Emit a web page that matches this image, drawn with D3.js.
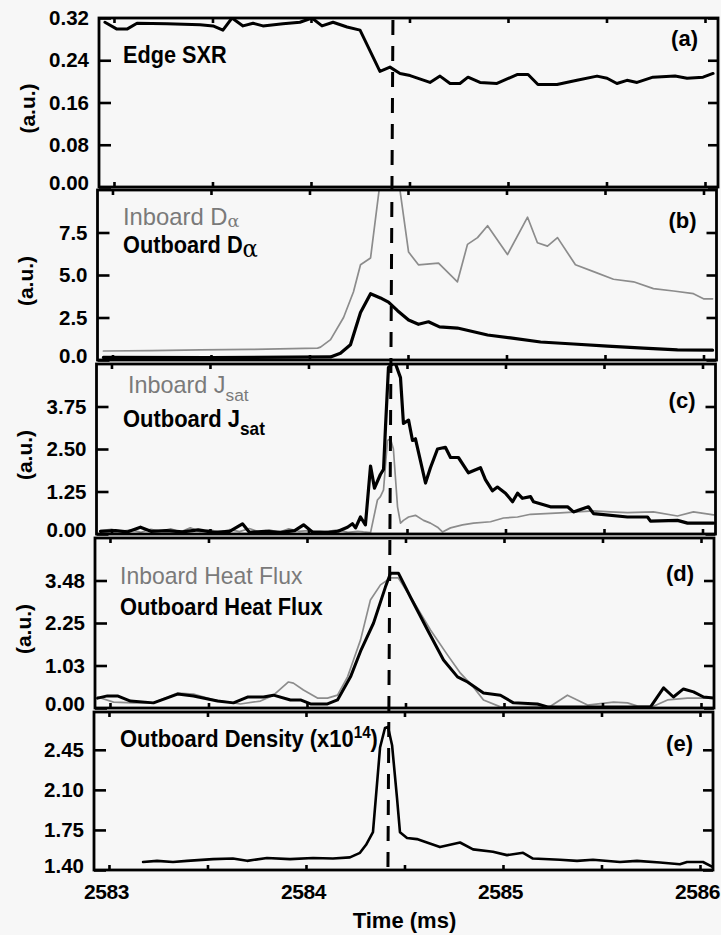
<!DOCTYPE html>
<html>
<head>
<meta charset="utf-8">
<script src="https://cdn.jsdelivr.net/npm/d3@7"></script>
<style>
html,body{margin:0;padding:0;background:#f7f7f7;}
svg{display:block;}
text{font-family:"Liberation Sans",Arial,Helvetica,sans-serif;}
</style>
</head>
<body>
<svg id="chart" width="721" height="935"></svg>
<script>
// ---- time axis ----
const timeTicks = [2583, 2583.5, 2584, 2584.5, 2585, 2585.5, 2586];
const timeTickLabels = ["2583", "", "2584", "", "2585", "", "2586"];
const elmTime = 2584.416;   // dashed marker

// ---- (a) Edge SXR ----
const sxrTicks = [0, 0.08, 0.16, 0.24, 0.32];
const sxrTickLabels = ["0.00", "0.08", "0.16", "0.24", "0.32"];
const sxrTime = [2582.954,2583.015,2583.066,2583.117,2583.269,2583.437,2583.503,2583.553,2583.599,2583.655,2583.706,2583.756,2583.858,2583.944,2584.005,2584.056,2584.112,2584.183,2584.249,2584.350,2584.401,2584.452,2584.503,2584.604,2584.655,2584.706,2584.756,2584.797,2584.858,2584.944,2585.046,2585.102,2585.152,2585.249,2585.350,2585.452,2585.503,2585.553,2585.604,2585.655,2585.736,2585.848,2585.909,2585.990,2586.041];
const sxrValue = [0.312,0.299,0.299,0.310,0.309,0.307,0.305,0.297,0.320,0.305,0.310,0.305,0.309,0.312,0.320,0.305,0.312,0.303,0.297,0.219,0.227,0.215,0.211,0.198,0.210,0.196,0.196,0.208,0.198,0.196,0.213,0.213,0.194,0.194,0.202,0.210,0.206,0.196,0.202,0.198,0.208,0.210,0.206,0.208,0.215];

// ---- (b) D-alpha ----
const daTicks = [0, 2.5, 5.0, 7.5];
const daTickLabels = ["0.0", "2.5", "5.0", "7.5"];
const daInTime = [2582.954,2583.200,2583.447,2583.700,2584.041,2584.056,2584.107,2584.173,2584.223,2584.259,2584.310,2584.360,2584.452,2584.503,2584.553,2584.655,2584.751,2584.802,2584.853,2584.904,2585.005,2585.107,2585.157,2585.208,2585.259,2585.350,2585.442,2585.543,2585.645,2585.746,2585.848,2585.949,2586.000,2586.046];
const daInValue = [0.53,0.55,0.60,0.62,0.70,0.76,1.2,2.5,4.0,5.6,6.0,10.6,10.6,6.35,5.6,5.7,4.6,6.8,7.2,7.9,6.2,8.4,6.9,6.7,7.2,5.6,5.2,4.75,4.6,4.2,4.06,3.9,3.6,3.6];
const daOutTime = [2582.954,2583.500,2584.107,2584.157,2584.208,2584.259,2584.310,2584.360,2584.401,2584.447,2584.503,2584.553,2584.604,2584.660,2584.751,2584.904,2585.020,2585.173,2585.340,2585.513,2585.695,2585.868,2586.046];
const daOutValue = [0.15,0.14,0.18,0.4,0.9,2.8,3.9,3.65,3.4,2.9,2.35,2.1,2.25,1.95,1.88,1.47,1.3,1.06,0.94,0.82,0.70,0.60,0.58];

// ---- (c) J_sat ----
const jsTicks = [0, 1.25, 2.5, 3.75];
const jsTickLabels = ["0.00", "1.25", "2.50", "3.75"];
const jsOutTime = [2582.944,2583.02,2583.08,2583.147,2583.20,2583.28,2583.36,2583.44,2583.52,2583.60,2583.665,2583.70,2583.78,2583.86,2583.93,2583.975,2584.02,2584.10,2584.15,2584.198,2584.223,2584.239,2584.264,2584.289,2584.315,2584.335,2584.365,2584.381,2584.391,2584.406,2584.426,2584.442,2584.467,2584.482,2584.508,2584.528,2584.543,2584.594,2584.619,2584.655,2584.695,2584.721,2584.761,2584.812,2584.873,2584.898,2584.934,2584.959,2585.000,2585.036,2585.061,2585.086,2585.127,2585.142,2585.228,2585.315,2585.345,2585.421,2585.447,2585.619,2585.721,2585.736,2585.873,2585.924,2586.056];
const jsOutValue = [0.08,0.10,0.06,0.20,0.08,0.10,0.06,0.12,0.05,0.08,0.30,0.05,0.08,0.05,0.10,0.27,0.06,0.05,0.08,0.20,0.30,0.18,0.50,0.27,2.0,1.35,1.75,1.9,3.15,4.9,5.0,5.0,4.6,3.25,3.35,2.75,2.8,1.5,1.95,2.5,2.55,2.25,2.25,1.8,1.95,1.6,1.27,1.38,1.2,0.95,1.2,1.05,1.1,0.95,0.8,0.8,0.65,0.8,0.6,0.5,0.5,0.38,0.40,0.32,0.32];
const jsInTime = [2582.944,2583.00,2583.05,2583.10,2583.15,2583.20,2583.25,2583.30,2583.35,2583.40,2583.45,2583.50,2583.55,2583.60,2583.65,2583.70,2583.75,2583.80,2583.85,2583.90,2583.95,2584.00,2584.05,2584.10,2584.15,2584.20,2584.25,2584.279,2584.315,2584.350,2584.365,2584.381,2584.401,2584.416,2584.431,2584.452,2584.467,2584.482,2584.508,2584.543,2584.584,2584.619,2584.655,2584.680,2584.721,2584.782,2584.838,2584.924,2584.990,2585.061,2585.127,2585.279,2585.447,2585.533,2585.619,2585.751,2585.873,2585.954,2586.056];
const jsInValue = [0.10,0.14,0.08,0.12,0.05,0.14,0.08,0.15,0.06,0.18,0.07,0.12,0.05,0.13,0.07,0.16,0.06,0.12,0.05,0.15,0.08,0.10,0.04,0.08,0.12,0.05,0.08,0.06,0.04,1.0,1.1,1.3,2.75,2.8,2.5,0.8,0.32,0.40,0.50,0.55,0.40,0.32,0.20,0.06,0.18,0.27,0.32,0.36,0.47,0.50,0.58,0.62,0.68,0.65,0.63,0.65,0.53,0.65,0.56];

// ---- (d) heat flux ----
const hfTicks = [0, 1.16, 2.32, 3.48];
const hfTickLabels = ["0.00", "1.03", "2.25", "3.48"];
const hfOutTime = [2582.937,2582.987,2583.038,2583.104,2583.221,2583.343,2583.424,2583.546,2583.627,2583.698,2583.779,2583.830,2583.916,2583.967,2584.018,2584.104,2584.155,2584.221,2584.272,2584.338,2584.398,2584.424,2584.464,2584.525,2584.612,2584.693,2584.764,2584.815,2584.896,2584.982,2585.048,2585.170,2585.221,2585.744,2585.810,2585.860,2585.911,2585.962,2586.013,2586.063];
const hfOutValue = [0.27,0.33,0.33,0.19,0.14,0.38,0.33,0.19,0.14,0.30,0.30,0.35,0.22,0.22,0.11,0.11,0.22,0.85,1.55,2.32,3.3,3.68,3.68,3.03,2.13,1.31,0.85,0.71,0.41,0.35,0.14,0.11,0.03,0.03,0.55,0.30,0.52,0.44,0.30,0.27];
const hfInTime = [2582.937,2583.018,2583.119,2583.221,2583.343,2583.424,2583.525,2583.662,2583.764,2583.830,2583.906,2583.931,2583.982,2584.053,2584.104,2584.155,2584.206,2584.236,2584.272,2584.322,2584.373,2584.424,2584.464,2584.541,2584.627,2584.713,2584.779,2584.845,2584.896,2584.982,2585.236,2585.322,2585.424,2585.556,2585.627,2585.678,2585.759,2585.830,2585.931,2586.063];
const hfInValue = [0.30,0.16,0.14,0.14,0.41,0.38,0.22,0.11,0.19,0.35,0.71,0.68,0.49,0.27,0.27,0.35,0.85,1.31,1.86,2.95,3.36,3.55,3.55,2.9,2.13,1.45,0.95,0.57,0.22,0.03,0.05,0.35,0.08,0.16,0.14,0.05,0.05,0.22,0.27,0.27];

// ---- (e) density ----
const neTicks = [1.40, 1.75, 2.10, 2.45];
const neTickLabels = ["1.40", "1.75", "2.10", "2.45"];
const neTime = [2583.173,2583.244,2583.325,2583.396,2583.528,2583.629,2583.701,2583.802,2583.919,2584.036,2584.137,2584.223,2584.274,2584.305,2584.340,2584.376,2584.401,2584.416,2584.437,2584.462,2584.477,2584.513,2584.563,2584.614,2584.680,2584.782,2584.848,2584.949,2585.020,2585.102,2585.152,2585.289,2585.376,2585.457,2585.594,2585.680,2585.797,2585.898,2585.934,2586.015,2586.061];
const neValue = [1.47,1.48,1.47,1.48,1.495,1.50,1.48,1.505,1.495,1.505,1.50,1.51,1.55,1.62,1.73,2.47,2.64,2.65,2.49,2.03,1.73,1.68,1.67,1.64,1.60,1.64,1.58,1.56,1.53,1.55,1.50,1.49,1.48,1.49,1.47,1.48,1.465,1.45,1.47,1.47,1.43];

// ---- styling ----
const BLACK = "#000";
const GREY = "#8c8c8c";
const GREY_TEXT = "#7a7a7a";

const panels = [
  { id: "a", top: 18, bottom: 187, shift: 5, yDomain: [0, 0.32], ticks: sxrTicks, labels: sxrTickLabels,
    tag: "(a)", tagY: 46, unit: true,
    series: [{ t: sxrTime, v: sxrValue, color: BLACK, width: 3 }],
    legend: [{ x: 123, y: 63, w: 104, bold: true, color: BLACK, parts: [{ s: "Edge SXR" }] }] },
  { id: "b", top: 190, bottom: 360, shift: 3.5, yDomain: [0, 10], ticks: daTicks, labels: daTickLabels,
    tag: "(b)", tagY: 228, unit: true,
    series: [{ t: daInTime, v: daInValue, color: GREY, width: 1.7 },
             { t: daOutTime, v: daOutValue, color: BLACK, width: 3.2 }],
    legend: [{ x: 123, y: 225, w: 117, bold: false, color: GREY_TEXT, parts: [{ s: "Inboard D" }, { s: "\u03b1", greek: true, size: 17, dy: 2 }] },
             { x: 123, y: 253, w: 135, bold: true, color: BLACK, parts: [{ s: "Outboard D" }, { s: "\u03b1", greek: true, size: 24, dy: 4 }] }] },
  { id: "c", top: 364, bottom: 534, shift: 2.5, yDomain: [0, 5], ticks: jsTicks, labels: jsTickLabels,
    tag: "(c)", tagY: 408, unit: true,
    series: [{ t: jsInTime, v: jsInValue, color: GREY, width: 1.7 },
             { t: jsOutTime, v: jsOutValue, color: BLACK, width: 3.2 }],
    legend: [{ x: 128, y: 393, w: 121, bold: false, color: GREY_TEXT, parts: [{ s: "Inboard J" }, { s: "sat", size: 17, dy: 8 }] },
             { x: 123, y: 427, w: 142, bold: true, color: BLACK, parts: [{ s: "Outboard J" }, { s: "sat", size: 18, dy: 8 }] }] },
  { id: "d", top: 538, bottom: 708, shift: 1, yDomain: [0, 4.64], ticks: hfTicks, labels: hfTickLabels,
    tag: "(d)", tagY: 581, unit: true,
    series: [{ t: hfInTime, v: hfInValue, color: GREY, width: 1.7 },
             { t: hfOutTime, v: hfOutValue, color: BLACK, width: 3 }],
    legend: [{ x: 120, y: 584, w: 183, bold: false, color: GREY_TEXT, parts: [{ s: "Inboard Heat Flux" }] },
             { x: 120, y: 615, w: 203, bold: true, color: BLACK, parts: [{ s: "Outboard Heat Flux" }] }] },
  { id: "e", top: 712, bottom: 870, shift: 0, yDomain: [1.40, 2.78], ticks: neTicks, labels: neTickLabels,
    tag: "(e)", tagY: 751, unit: false,
    series: [{ t: neTime, v: neValue, color: BLACK, width: 2.6 }],
    legend: [{ x: 120, y: 747, w: 258, bold: true, color: BLACK,
               parts: [{ s: "Outboard Density (x10" }, { s: "14", size: 16, dy: -9 }, { s: ")", dy: 9 }] }] }
];

const W = 721, H = 935;
const timeDomain = [2582.924, 2586.066];
const plotLeft = 94, plotRight = 713;

const svg = d3.select("#chart");
svg.append("rect").attr("width", W).attr("height", H).attr("fill", "#f7f7f7");
const defs = svg.append("defs");

function styleAxis(sel, fontSize) {
  sel.select(".domain").remove();
  sel.selectAll(".tick line").attr("stroke", BLACK).attr("stroke-width", 2.6);
  sel.selectAll(".tick text")
    .attr("fill", BLACK)
    .attr("font-size", fontSize)
    .attr("font-weight", "bold")
    .attr("font-family", "'Liberation Sans', Arial, sans-serif");
}

function drawLegend(g, item) {
  const holder = g.append("g").attr("transform", `translate(${item.x},${item.y})`);
  const txt = holder.append("text")
    .attr("font-size", 23)
    .attr("font-weight", item.bold ? "bold" : "normal")
    .attr("fill", item.color);
  item.parts.forEach(p => {
    const ts = txt.append("tspan").text(p.s);
    if (p.size) ts.attr("font-size", p.size);
    if (p.dy) ts.attr("dy", p.dy);
    if (p.greek) ts.attr("font-family", "'DejaVu Serif', serif").attr("font-weight", "normal");
  });
  const bw = txt.node().getBBox().width;
  if (bw > 0) txt.attr("transform", `scale(${item.w / bw},1)`);
}

panels.forEach(p => {
  const x = d3.scaleLinear().domain(timeDomain).range([plotLeft + p.shift, plotRight + p.shift]);
  const y = d3.scaleLinear().domain(p.yDomain).range([p.bottom, p.top]);
  p.x = x; p.y = y;
  const x0 = x.range()[0], x1 = x.range()[1];
  const g = svg.append("g").attr("class", "panel-" + p.id);

  defs.append("clipPath").attr("id", "clip-" + p.id)
    .append("rect").attr("x", x0).attr("y", p.top).attr("width", x1 - x0).attr("height", p.bottom - p.top);

  const lines = g.append("g").attr("clip-path", `url(#clip-${p.id})`);
  const line = d3.line().x(d => x(d[0])).y(d => y(d[1]));
  p.series.forEach(s => {
    const pts = s.t.map((t, i) => [t, s.v[i]]);
    lines.append("path").datum(pts)
      .attr("d", line)
      .attr("fill", "none")
      .attr("stroke", s.color)
      .attr("stroke-width", s.width)
      .attr("stroke-linejoin", "round")
      .attr("stroke-linecap", "round");
  });

  // left axis with labels, ticks pointing inward
  const yl = g.append("g").attr("transform", `translate(${x0},0)`)
    .call(d3.axisLeft(y).tickValues(p.ticks).tickFormat((d, i) => p.labels[i])
      .tickSizeInner(-12).tickSizeOuter(0).tickPadding(10));
  styleAxis(yl, 20.5);
  yl.selectAll(".tick text").attr("y", d => d === p.yDomain[0] ? -4 : 0);

  // right axis ticks only
  const yr = g.append("g").attr("transform", `translate(${x1},0)`)
    .call(d3.axisRight(y).tickValues(p.ticks).tickFormat("").tickSizeInner(-10).tickSizeOuter(0));
  styleAxis(yr, 0);

  // top / bottom time ticks
  const xt = g.append("g").attr("transform", `translate(0,${p.top})`)
    .call(d3.axisTop(x).tickValues(timeTicks).tickFormat("").tickSizeInner(-5).tickSizeOuter(0));
  styleAxis(xt, 0);
  const isLast = p.id === "e";
  const xb = g.append("g").attr("transform", `translate(0,${p.bottom})`)
    .call(d3.axisBottom(x).tickValues(timeTicks)
      .tickFormat(isLast ? (d, i) => timeTickLabels[i] : "")
      .tickSizeInner(-5).tickSizeOuter(0).tickPadding(14.5));
  styleAxis(xb, 21);
  if (isLast) xb.selectAll(".tick text").attr("x", -3).attr("letter-spacing", -0.4);

  // frame
  g.append("rect").attr("x", x0).attr("y", p.top).attr("width", x1 - x0).attr("height", p.bottom - p.top)
    .attr("fill", "none").attr("stroke", BLACK).attr("stroke-width", 2.8);

  // unit label
  if (p.unit) {
    g.append("text")
      .attr("transform", `translate(${x0 - 72},${(p.top + p.bottom) / 2 + 6}) rotate(-90)`)
      .attr("text-anchor", "middle").attr("dominant-baseline", "central")
      .attr("font-size", 21).attr("font-weight", "bold").attr("fill", BLACK)
      .text("(a.u.)");
  }

  // panel tag
  g.append("text").attr("x", x1 - 20).attr("y", p.tagY)
    .attr("text-anchor", "end").attr("font-size", 22).attr("font-weight", "bold").attr("fill", BLACK)
    .text(p.tag);

  p.legend.forEach(item => drawLegend(g, item));
});

// dashed marker through all panels
const first = panels[0], last = panels[panels.length - 1];
svg.append("line")
  .attr("x1", first.x(elmTime)).attr("y1", first.top + 2)
  .attr("x2", last.x(elmTime)).attr("y2", last.bottom - 1)
  .attr("stroke", BLACK).attr("stroke-width", 3).attr("stroke-dasharray", "15,11");

// x-axis title
svg.append("text")
  .attr("x", last.x((timeTicks[0] + timeTicks[timeTicks.length - 1]) / 2)).attr("y", 928)
  .attr("text-anchor", "middle").attr("font-size", 22).attr("font-weight", "bold").attr("fill", BLACK)
  .text("Time (ms)");
</script>
</body>
</html>
